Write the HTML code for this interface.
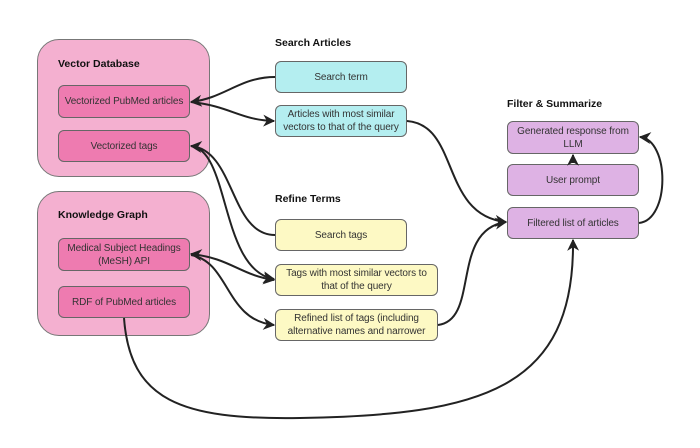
<!DOCTYPE html>
<html><head><style>
body{margin:0;width:700px;height:448px;background:#fff;position:relative;font-family:"Liberation Sans",sans-serif;overflow:hidden}
.b{position:absolute;box-sizing:border-box;border:1px solid #666;border-radius:6px;display:flex;align-items:center;justify-content:center;text-align:center;font-size:10px;letter-spacing:-0.1px;color:#333;line-height:13px;padding:0 2px}
.c{position:absolute;box-sizing:border-box;border:1px solid #777;border-radius:22px;background:#f4b0d0}
.t{position:absolute;font-size:10.5px;font-weight:bold;color:#111}
.p{background:#ee7bb0}.cy{background:#b4eef0}.y{background:#fdf9c4}.v{background:#deb2e4}
</style></head><body>
<div class="c" style="left:37px;top:39px;width:173px;height:138px"></div>
<div class="c" style="left:37px;top:191px;width:173px;height:145px"></div>
<div class="t" style="left:58px;top:58px">Vector Database</div>
<div class="t" style="left:58px;top:209px">Knowledge Graph</div>
<div class="t" style="left:275px;top:37px">Search Articles</div>
<div class="t" style="left:275px;top:193px">Refine Terms</div>
<div class="t" style="left:507px;top:98px">Filter &amp; Summarize</div>
<div class="b p" style="left:58px;top:85px;width:132px;height:33px">Vectorized PubMed articles</div>
<div class="b p" style="left:58px;top:130px;width:132px;height:32px">Vectorized tags</div>
<div class="b p" style="left:58px;top:238px;width:132px;height:33px">Medical Subject Headings (MeSH) API</div>
<div class="b p" style="left:58px;top:286px;width:132px;height:32px">RDF of PubMed articles</div>
<div class="b cy" style="left:275px;top:61px;width:132px;height:32px">Search term</div>
<div class="b cy" style="left:275px;top:105px;width:132px;height:32px">Articles with most similar vectors to that of the query</div>
<div class="b y" style="left:275px;top:219px;width:132px;height:32px">Search tags</div>
<div class="b y" style="left:275px;top:264px;width:163px;height:32px">Tags with most similar vectors to that of the query</div>
<div class="b y" style="left:275px;top:309px;width:163px;height:32px">Refined list of tags (including alternative names and narrower</div>
<div class="b v" style="left:507px;top:121px;width:132px;height:33px">Generated response from LLM</div>
<div class="b v" style="left:507px;top:164px;width:132px;height:32px">User prompt</div>
<div class="b v" style="left:507px;top:207px;width:132px;height:32px">Filtered list of articles</div>
<svg width="700" height="448" style="position:absolute;left:0;top:0" fill="none" stroke="#222" stroke-width="2">
<defs><marker id="a" viewBox="0 0 10 10" refX="9" refY="5" markerWidth="6" markerHeight="6" orient="auto-start-reverse"><path d="M0,0L10,5L0,10L3,5z" fill="#222" stroke="none"/></marker></defs>
<path d="M275,77 C240,77 225,98 191,102" marker-end="url(#a)"/>
<path d="M191,102 C230,106 240,120 274,121" marker-end="url(#a)"/>
<path d="M407,121 C460,125 440,215 506,222" marker-end="url(#a)"/>
<path d="M275,235 C230,235 235,150 191,146" marker-end="url(#a)"/>
<path d="M191,146 C230,150 220,270 274,279" marker-end="url(#a)"/>
<path d="M191,254 C230,258 240,275 274,280" marker-start="url(#a)" marker-end="url(#a)"/>
<path d="M191,255 C230,262 225,320 274,325" marker-end="url(#a)"/>
<path d="M438,325 C480,320 450,230 506,222" marker-end="url(#a)"/>
<path d="M124,318 C130,400 180,420 300,418 C480,415 575,390 573,240" marker-end="url(#a)"/>
<path d="M639,223 C670,220 670,140 640,137" marker-end="url(#a)"/>
<path d="M573,163 L573,155" marker-end="url(#a)"/>
</svg>
</body></html>
